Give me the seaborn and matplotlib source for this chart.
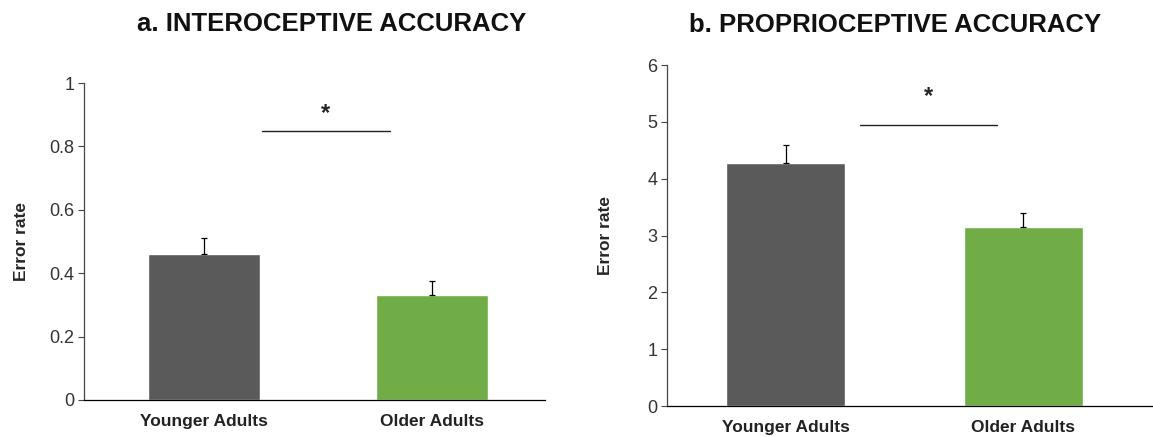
import pandas as pd
import matplotlib.pyplot as plt
import seaborn as sns

# Data
groups = ["Younger Adults", "Older Adults"]
intero_mean = [0.46, 0.33]
intero_sem = [0.05, 0.045]
proprio_mean = [4.27, 3.15]
proprio_sem = [0.33, 0.24]
bar_colors = ["#5a5a5a", "#70ad47"]

sns.set_theme(style="white")
plt.rcParams['font.family'] = ['Liberation Sans', 'DejaVu Sans']

fig = plt.figure(figsize=(11.53, 4.37), dpi=100)
ax_a = fig.add_axes([0.0729, 0.0847, 0.3998, 0.7253])
ax_b = fig.add_axes([0.5785, 0.0709, 0.4215, 0.7803])


def draw_panel(ax, means, sems, ylim, yticks, ticklabels, xlim, width, sig_x, sig_y, star_y):
    df = pd.DataFrame({'group': groups, 'value': means})
    sns.barplot(data=df, x='group', y='value', hue='group', palette=bar_colors,
                width=width, saturation=1, legend=False, ax=ax)
    ax.errorbar(range(len(means)), means, yerr=[[0] * len(sems), sems], fmt='none',
                ecolor='black', elinewidth=0.9, capsize=2.5, capthick=0.9)
    ax.plot(sig_x, [sig_y, sig_y], color='#222222', lw=1)
    ax.text(sum(sig_x) / 2, star_y, '*', ha='center', va='center', fontsize=17, fontweight='bold')
    ax.set_ylim(*ylim)
    ax.set_xlim(*xlim)
    ax.set_yticks(yticks)
    ax.set_yticklabels(ticklabels, fontsize=13, color='#333333')
    ax.set_xticks(range(len(groups)))
    ax.set_xticklabels(groups, fontsize=12.5, fontweight='bold', color='#222222')
    ax.tick_params(axis='y', length=4, width=0.8, color='#444444', direction='out', left=True, pad=3)
    ax.tick_params(axis='x', length=0, pad=10)
    ax.set_xlabel('')
    ax.set_ylabel('Error rate', fontsize=12.5, fontweight='bold')
    for s in ['top', 'right']:
        ax.spines[s].set_visible(False)
    ax.spines['left'].set_color('#444444')
    ax.spines['bottom'].set_color('black')
    ax.spines['left'].set_linewidth(0.9)
    ax.spines['bottom'].set_linewidth(0.9)


draw_panel(ax_a, intero_mean, intero_sem, (0, 1), [0, 0.2, 0.4, 0.6, 0.8, 1],
           ['0', '0.2', '0.4', '0.6', '0.8', '1'], (-0.526, 1.496), 0.49,
           [0.254, 0.816], 0.85, 0.905)
ax_a.yaxis.set_label_coords(-0.119, 0.5)

draw_panel(ax_b, proprio_mean, proprio_sem, (0, 6), [0, 1, 2, 3, 4, 5, 6],
           [str(v) for v in range(7)], (-0.50, 1.545), 0.50,
           [0.31, 0.89], 4.94, 5.45)
ax_b.yaxis.set_label_coords(-0.111, 0.5)

fig.text(0.288, 0.945, 'a. INTEROCEPTIVE ACCURACY', ha='center', va='center',
         fontsize=18.5, fontweight='bold', color='#111111')
fig.text(0.776, 0.943, 'b. PROPRIOCEPTIVE ACCURACY', ha='center', va='center',
         fontsize=18.5, fontweight='bold', color='#111111')

fig.savefig('out.png', dpi=100)
